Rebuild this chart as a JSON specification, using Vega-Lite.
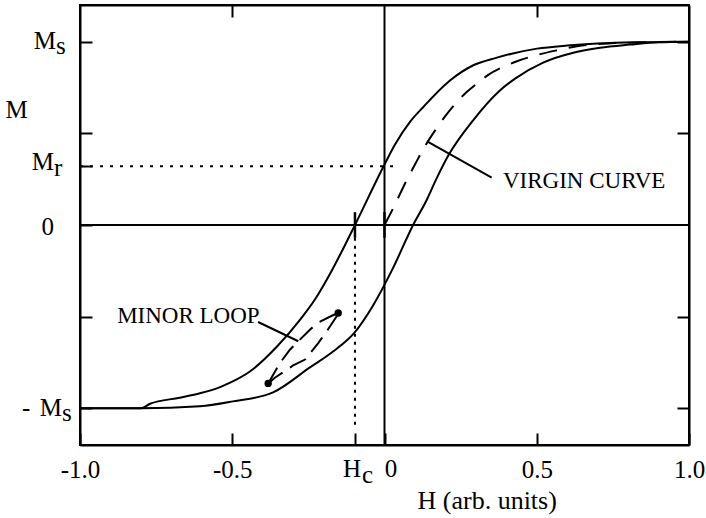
{
  "$schema": "https://vega.github.io/schema/vega-lite/v6.json",
  "width": 609,
  "height": 440,
  "autosize": {"type": "none"},
  "padding": {"left": 80, "top": 5, "right": 17, "bottom": 73},
  "background": "white",
  "config": {
    "font": "Liberation Serif",
    "view": {"stroke": "black", "strokeWidth": 2},
    "axis": {
      "domain": true, "domainColor": "black", "domainWidth": 2,
      "ticks": true, "tickColor": "black", "tickWidth": 2,
      "grid": false,
      "labelFont": "Liberation Serif", "labelColor": "black", "labelFontSize": 25,
      "titleFont": "Liberation Serif", "titleColor": "black", "titleFontWeight": "normal", "titleFontSize": 25
    }
  },
  "datasets": {
    "loop": [
      {"branch": "dn", "H": -1.0, "M": -1.0},
      {"branch": "dn", "H": -0.80, "M": -1.0},
      {"branch": "dn", "H": -0.77, "M": -0.975},
      {"branch": "dn", "H": -0.672, "M": -0.942},
      {"branch": "dn", "H": -0.606, "M": -0.918},
      {"branch": "dn", "H": -0.54, "M": -0.884},
      {"branch": "dn", "H": -0.507, "M": -0.86},
      {"branch": "dn", "H": -0.442, "M": -0.799},
      {"branch": "dn", "H": -0.353, "M": -0.663},
      {"branch": "dn", "H": -0.277, "M": -0.516},
      {"branch": "dn", "H": -0.228, "M": -0.405},
      {"branch": "dn", "H": -0.172, "M": -0.245},
      {"branch": "dn", "H": -0.097, "M": 0.0},
      {"branch": "dn", "H": 0.0, "M": 0.33},
      {"branch": "dn", "H": 0.035, "M": 0.44},
      {"branch": "dn", "H": 0.085, "M": 0.565},
      {"branch": "dn", "H": 0.126, "M": 0.641},
      {"branch": "dn", "H": 0.215, "M": 0.788},
      {"branch": "dn", "H": 0.29, "M": 0.87},
      {"branch": "dn", "H": 0.369, "M": 0.913},
      {"branch": "dn", "H": 0.501, "M": 0.962},
      {"branch": "dn", "H": 0.6, "M": 0.979},
      {"branch": "dn", "H": 0.7, "M": 0.99},
      {"branch": "dn", "H": 0.83, "M": 0.997},
      {"branch": "dn", "H": 1.0, "M": 1.0},
      {"branch": "up", "H": -1.0, "M": -1.0},
      {"branch": "up", "H": -0.80, "M": -1.0},
      {"branch": "up", "H": -0.606, "M": -0.989},
      {"branch": "up", "H": -0.498, "M": -0.962},
      {"branch": "up", "H": -0.366, "M": -0.913},
      {"branch": "up", "H": -0.245, "M": -0.777},
      {"branch": "up", "H": -0.169, "M": -0.69},
      {"branch": "up", "H": -0.1, "M": -0.59},
      {"branch": "up", "H": -0.038, "M": -0.44},
      {"branch": "up", "H": 0.025, "M": -0.245},
      {"branch": "up", "H": 0.094, "M": 0.0},
      {"branch": "up", "H": 0.139, "M": 0.138},
      {"branch": "up", "H": 0.17, "M": 0.25},
      {"branch": "up", "H": 0.21, "M": 0.38},
      {"branch": "up", "H": 0.291, "M": 0.571},
      {"branch": "up", "H": 0.379, "M": 0.734},
      {"branch": "up", "H": 0.43, "M": 0.80},
      {"branch": "up", "H": 0.521, "M": 0.886},
      {"branch": "up", "H": 0.62, "M": 0.94},
      {"branch": "up", "H": 0.708, "M": 0.967},
      {"branch": "up", "H": 0.806, "M": 0.984},
      {"branch": "up", "H": 0.9, "M": 0.997},
      {"branch": "up", "H": 1.0, "M": 1.0}
    ],
    "virgin": [
      {"H": 0.0, "M": 0.0},
      {"H": 0.034, "M": 0.11},
      {"H": 0.067, "M": 0.225},
      {"H": 0.1, "M": 0.33},
      {"H": 0.133, "M": 0.43},
      {"H": 0.166, "M": 0.515},
      {"H": 0.2, "M": 0.595},
      {"H": 0.232, "M": 0.66},
      {"H": 0.27, "M": 0.725},
      {"H": 0.304, "M": 0.772},
      {"H": 0.337, "M": 0.815},
      {"H": 0.389, "M": 0.862},
      {"H": 0.435, "M": 0.893},
      {"H": 0.494, "M": 0.924},
      {"H": 0.567, "M": 0.953},
      {"H": 0.632, "M": 0.975},
      {"H": 0.77, "M": 0.993},
      {"H": 1.0, "M": 1.0}
    ],
    "minor": [
      {"path": "a", "H": -0.382, "M": -0.864},
      {"path": "a", "H": -0.343, "M": -0.752},
      {"path": "a", "H": -0.31, "M": -0.679},
      {"path": "a", "H": -0.245, "M": -0.571},
      {"path": "a", "H": -0.217, "M": -0.531},
      {"path": "a", "H": -0.173, "M": -0.495},
      {"path": "a", "H": -0.152, "M": -0.48},
      {"path": "b", "H": -0.382, "M": -0.864},
      {"path": "b", "H": -0.36, "M": -0.833},
      {"path": "b", "H": -0.3, "M": -0.766},
      {"path": "b", "H": -0.261, "M": -0.734},
      {"path": "b", "H": -0.217, "M": -0.643},
      {"path": "b", "H": -0.19, "M": -0.58},
      {"path": "b", "H": -0.157, "M": -0.498},
      {"path": "b", "H": -0.152, "M": -0.48}
    ],
    "minorPts": [
      {"H": -0.382, "M": -0.864},
      {"H": -0.152, "M": -0.48}
    ],
    "leaders": [
      {"id": "minor", "H": -0.415, "M": -0.529},
      {"id": "minor", "H": -0.283, "M": -0.634},
      {"id": "virgin", "H": 0.143, "M": 0.453},
      {"id": "virgin", "H": 0.352, "M": 0.259}
    ],
    "notes": [
      {"text": "MINOR LOOP", "H": -0.878, "M": -0.534},
      {"text": "VIRGIN CURVE", "H": 0.389, "M": 0.1995}
    ],
    "refs": [
      {"id": "zeroH", "H": -1.0, "H2": 1.0, "M": 0.0, "M2": 0.0},
      {"id": "zeroV", "H": 0.0, "H2": 0.0, "M": -1.2, "M2": 1.2},
      {"id": "Mr", "H": -1.0, "H2": 0.051, "M": 0.32, "M2": 0.32},
      {"id": "Hc", "H": -0.097, "H2": -0.097, "M": -0.07, "M2": -1.1},
      {"id": "HcTick", "H": -0.097, "H2": -0.097, "M": 0.07, "M2": -0.07},
      {"id": "zeroTick", "H": 0.0, "H2": 0.0, "M": 0.07, "M2": -0.07}
    ],
    "ticktext": [
      {"id": "Ms", "H": -1.0, "M": 1.0, "text": "M"},
      {"id": "Ms_sub", "H": -1.0, "M": 1.0, "text": "s"},
      {"id": "Mr", "H": -1.0, "M": 0.32, "text": "M"},
      {"id": "Mr_sub", "H": -1.0, "M": 0.32, "text": "r"},
      {"id": "zeroY", "H": -1.0, "M": 0.0, "text": "0"},
      {"id": "mMs_dash", "H": -1.0, "M": -1.0, "text": "-"},
      {"id": "mMs", "H": -1.0, "M": -1.0, "text": "M"},
      {"id": "mMs_sub", "H": -1.0, "M": -1.0, "text": "s"},
      {"id": "Hc", "H": -0.097, "M": -1.2, "text": "H"},
      {"id": "Hc_sub", "H": -0.097, "M": -1.2, "text": "c"},
      {"id": "zeroX", "H": 0.0, "M": -1.2, "text": "0"}
    ]
  },
  "layer": [
    {
      "data": {"name": "loop"},
      "mark": {"type": "line", "color": "black", "strokeWidth": 2, "interpolate": "monotone"},
      "encoding": {
        "x": {
          "field": "H", "type": "quantitative",
          "scale": {"domain": [-1, 1], "nice": false, "zero": false},
          "axis": {
            "orient": "bottom",
            "values": [-1, -0.5, -0.097, 0, 0.5, 1],
            "tickSize": -12,
            "labelExpr": "datum.value == -1 ? '-1.0' : datum.value == -0.5 ? '-0.5' : datum.value == 0.5 ? '0.5' : datum.value == 1 ? '1.0' : ''",
            "labelFlush": false,
            "labelOverlap": false,
            "labelPadding": 44,
            "labelBaseline": "alphabetic",
            "title": "H (arb. units)",
            "titleFontSize": 26,
            "titleX": 337,
            "titleY": 63,
            "titleAlign": "left",
            "titleBaseline": "alphabetic"
          }
        },
        "y": {
          "field": "M", "type": "quantitative",
          "scale": {"domain": [-1.2, 1.2], "nice": false, "zero": false},
          "axis": {
            "orient": "left",
            "values": [-1, -0.5, 0, 0.32, 0.5, 1],
            "tickSize": -12,
            "labels": false,
            "title": "M",
            "titleAngle": 0,
            "titleX": -64,
            "titleY": 112,
            "titleAlign": "center",
            "titleBaseline": "alphabetic"
          }
        },
        "detail": {"field": "branch"}
      }
    },
    {
      "data": {"name": "virgin"},
      "mark": {"type": "line", "color": "black", "strokeWidth": 2, "strokeDash": [18, 12], "interpolate": "monotone"},
      "encoding": {
        "x": {
          "field": "H", "type": "quantitative",
          "axis": {"orient": "top", "values": [-0.5, 0.5], "tickSize": -12, "labels": false, "title": null}
        },
        "y": {
          "field": "M", "type": "quantitative",
          "axis": {"orient": "right", "values": [-1, -0.5, 0.5, 1], "tickSize": -12, "labels": false, "title": null}
        }
      }
    },
    {
      "data": {"name": "refs"},
      "transform": [{"filter": "datum.id == 'zeroH'"}],
      "mark": {"type": "rule", "color": "black", "strokeWidth": 2},
      "encoding": {
        "x": {"field": "H", "type": "quantitative", "axis": null},
        "x2": {"field": "H2"},
        "y": {"field": "M", "type": "quantitative", "axis": null}
      }
    },
    {
      "data": {"name": "refs"},
      "transform": [{"filter": "datum.id == 'zeroV'"}],
      "mark": {"type": "rule", "color": "black", "strokeWidth": 2},
      "encoding": {
        "x": {"field": "H", "type": "quantitative", "axis": null},
        "y": {"field": "M", "type": "quantitative", "axis": null},
        "y2": {"field": "M2"}
      }
    },
    {
      "data": {"name": "refs"},
      "transform": [{"filter": "datum.id == 'Mr'"}],
      "mark": {"type": "rule", "color": "black", "strokeWidth": 2, "strokeDash": [3, 7]},
      "encoding": {
        "x": {"field": "H", "type": "quantitative", "axis": null},
        "x2": {"field": "H2"},
        "y": {"field": "M", "type": "quantitative", "axis": null}
      }
    },
    {
      "data": {"name": "refs"},
      "transform": [{"filter": "datum.id == 'Hc'"}],
      "mark": {"type": "rule", "color": "black", "strokeWidth": 2, "strokeDash": [3, 5]},
      "encoding": {
        "x": {"field": "H", "type": "quantitative", "axis": null},
        "y": {"field": "M", "type": "quantitative", "axis": null},
        "y2": {"field": "M2"}
      }
    },
    {
      "data": {"name": "refs"},
      "transform": [{"filter": "datum.id == 'HcTick' || datum.id == 'zeroTick'"}],
      "mark": {"type": "rule", "color": "black", "strokeWidth": 2.5},
      "encoding": {
        "x": {"field": "H", "type": "quantitative", "axis": null},
        "y": {"field": "M", "type": "quantitative", "axis": null},
        "y2": {"field": "M2"}
      }
    },
    {
      "data": {"name": "minor"},
      "mark": {"type": "line", "color": "black", "strokeWidth": 2, "strokeDash": [18, 9]},
      "encoding": {
        "x": {"field": "H", "type": "quantitative", "axis": null},
        "y": {"field": "M", "type": "quantitative", "axis": null},
        "detail": {"field": "path"}
      }
    },
    {
      "data": {"name": "minorPts"},
      "mark": {"type": "point", "filled": true, "color": "black", "size": 55, "opacity": 1},
      "encoding": {
        "x": {"field": "H", "type": "quantitative", "axis": null},
        "y": {"field": "M", "type": "quantitative", "axis": null}
      }
    },
    {
      "data": {"name": "leaders"},
      "mark": {"type": "line", "color": "black", "strokeWidth": 2},
      "encoding": {
        "x": {"field": "H", "type": "quantitative", "axis": null},
        "y": {"field": "M", "type": "quantitative", "axis": null},
        "detail": {"field": "id"}
      }
    },
    {
      "data": {"name": "notes"},
      "mark": {"type": "text", "font": "Liberation Serif", "fontSize": 23, "color": "black", "align": "left", "baseline": "alphabetic"},
      "encoding": {
        "x": {"field": "H", "type": "quantitative", "axis": null},
        "y": {"field": "M", "type": "quantitative", "axis": null},
        "text": {"field": "text"}
      }
    },
    {
      "data": {"name": "ticktext"},
      "transform": [{"filter": "datum.id == 'Ms'"}],
      "mark": {"type": "text", "font": "Liberation Serif", "fontSize": 25, "color": "black", "align": "right", "baseline": "alphabetic", "dx": -24, "dy": 7.5},
      "encoding": {"x": {"field": "H", "type": "quantitative", "axis": null}, "y": {"field": "M", "type": "quantitative", "axis": null}, "text": {"field": "text"}}
    },
    {
      "data": {"name": "ticktext"},
      "transform": [{"filter": "datum.id == 'Ms_sub'"}],
      "mark": {"type": "text", "font": "Liberation Serif", "fontSize": 25, "color": "black", "align": "left", "baseline": "alphabetic", "dx": -24, "dy": 12.5},
      "encoding": {"x": {"field": "H", "type": "quantitative", "axis": null}, "y": {"field": "M", "type": "quantitative", "axis": null}, "text": {"field": "text"}}
    },
    {
      "data": {"name": "ticktext"},
      "transform": [{"filter": "datum.id == 'Mr'"}],
      "mark": {"type": "text", "font": "Liberation Serif", "fontSize": 25, "color": "black", "align": "right", "baseline": "alphabetic", "dx": -26, "dy": 4},
      "encoding": {"x": {"field": "H", "type": "quantitative", "axis": null}, "y": {"field": "M", "type": "quantitative", "axis": null}, "text": {"field": "text"}}
    },
    {
      "data": {"name": "ticktext"},
      "transform": [{"filter": "datum.id == 'Mr_sub'"}],
      "mark": {"type": "text", "font": "Liberation Serif", "fontSize": 25, "color": "black", "align": "left", "baseline": "alphabetic", "dx": -26, "dy": 10},
      "encoding": {"x": {"field": "H", "type": "quantitative", "axis": null}, "y": {"field": "M", "type": "quantitative", "axis": null}, "text": {"field": "text"}}
    },
    {
      "data": {"name": "ticktext"},
      "transform": [{"filter": "datum.id == 'zeroY'"}],
      "mark": {"type": "text", "font": "Liberation Serif", "fontSize": 25, "color": "black", "align": "right", "baseline": "alphabetic", "dx": -26, "dy": 10},
      "encoding": {"x": {"field": "H", "type": "quantitative", "axis": null}, "y": {"field": "M", "type": "quantitative", "axis": null}, "text": {"field": "text"}}
    },
    {
      "data": {"name": "ticktext"},
      "transform": [{"filter": "datum.id == 'mMs_dash'"}],
      "mark": {"type": "text", "font": "Liberation Serif", "fontSize": 25, "color": "black", "align": "left", "baseline": "alphabetic", "dx": -58, "dy": 8},
      "encoding": {"x": {"field": "H", "type": "quantitative", "axis": null}, "y": {"field": "M", "type": "quantitative", "axis": null}, "text": {"field": "text"}}
    },
    {
      "data": {"name": "ticktext"},
      "transform": [{"filter": "datum.id == 'mMs'"}],
      "mark": {"type": "text", "font": "Liberation Serif", "fontSize": 25, "color": "black", "align": "right", "baseline": "alphabetic", "dx": -18, "dy": 8},
      "encoding": {"x": {"field": "H", "type": "quantitative", "axis": null}, "y": {"field": "M", "type": "quantitative", "axis": null}, "text": {"field": "text"}}
    },
    {
      "data": {"name": "ticktext"},
      "transform": [{"filter": "datum.id == 'mMs_sub'"}],
      "mark": {"type": "text", "font": "Liberation Serif", "fontSize": 25, "color": "black", "align": "left", "baseline": "alphabetic", "dx": -18, "dy": 13},
      "encoding": {"x": {"field": "H", "type": "quantitative", "axis": null}, "y": {"field": "M", "type": "quantitative", "axis": null}, "text": {"field": "text"}}
    },
    {
      "data": {"name": "ticktext"},
      "transform": [{"filter": "datum.id == 'Hc'"}],
      "mark": {"type": "text", "font": "Liberation Serif", "fontSize": 25, "color": "black", "align": "center", "baseline": "alphabetic", "dx": -3, "dy": 32},
      "encoding": {"x": {"field": "H", "type": "quantitative", "axis": null}, "y": {"field": "M", "type": "quantitative", "axis": null}, "text": {"field": "text"}}
    },
    {
      "data": {"name": "ticktext"},
      "transform": [{"filter": "datum.id == 'Hc_sub'"}],
      "mark": {"type": "text", "font": "Liberation Serif", "fontSize": 25, "color": "black", "align": "left", "baseline": "alphabetic", "dx": 7, "dy": 38},
      "encoding": {"x": {"field": "H", "type": "quantitative", "axis": null}, "y": {"field": "M", "type": "quantitative", "axis": null}, "text": {"field": "text"}}
    },
    {
      "data": {"name": "ticktext"},
      "transform": [{"filter": "datum.id == 'zeroX'"}],
      "mark": {"type": "text", "font": "Liberation Serif", "fontSize": 25, "color": "black", "align": "center", "baseline": "alphabetic", "dx": 6.5, "dy": 32},
      "encoding": {"x": {"field": "H", "type": "quantitative", "axis": null}, "y": {"field": "M", "type": "quantitative", "axis": null}, "text": {"field": "text"}}
    }
  ],
  "resolve": {"axis": {"x": "independent", "y": "independent"}}
}
